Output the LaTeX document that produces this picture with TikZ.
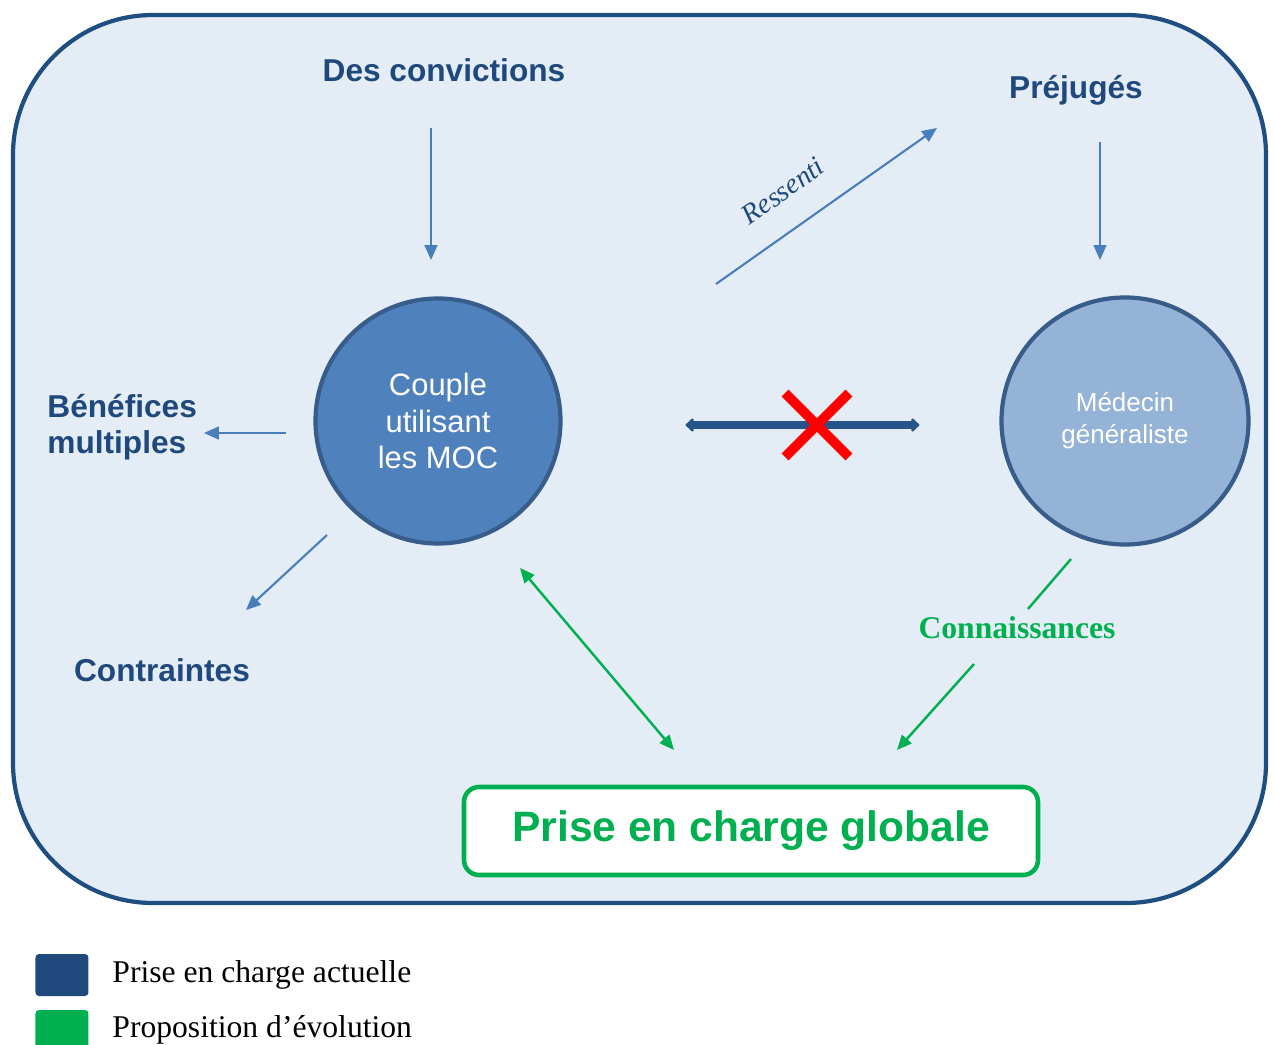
\documentclass[tikz,border=0pt]{standalone}
\usepackage{fontspec}
\setmainfont{Liberation Serif}
\setsansfont{Liberation Sans}
\usepackage{tikz}
\usetikzlibrary{arrows.meta,shapes.misc}
\definecolor{fond}{RGB}{228,236,245}
\definecolor{cadre}{RGB}{31,78,128}
\definecolor{bleutexte}{RGB}{31,73,125}
\definecolor{bleufleche}{RGB}{74,126,187}
\definecolor{bleurond}{RGB}{79,129,189}
\definecolor{bleuclair}{RGB}{149,179,215}
\definecolor{bordrond}{RGB}{56,93,138}
\definecolor{bleuepais}{RGB}{38,84,136}
\definecolor{vert}{RGB}{0,176,80}
\tikzstyle{rond} = [circle, draw=bordrond, line width=1.2pt, text=white, align=center, inner sep=0pt]
\tikzstyle{titre} = [text=bleutexte, font=\sffamily\bfseries\fontsize{9}{10.3}\selectfont]
\tikzstyle{line} = [draw=bleufleche, line width=0.6pt, -{Triangle[length=4.2pt,width=3.6pt]}]
\tikzstyle{vline} = [draw=vert, line width=0.7pt, -{Triangle[length=4.2pt,width=3.6pt]}]
\tikzstyle{vdouble} = [draw=vert, line width=0.7pt, {Triangle[length=4.2pt,width=3.6pt]}-{Triangle[length=4.2pt,width=3.6pt]}]
\tikzstyle{epais} = [draw=bleuepais, line width=2.3pt, {Triangle[round,length=2.4pt,width=4.4pt]}-{Triangle[round,length=2.4pt,width=4.4pt]}]
\tikzstyle{croix} = [cross out, draw=red, line width=2.8pt, minimum size=0.54cm, inner sep=0pt, shorten <=0pt, shorten >=0pt]
\tikzstyle{legende} = [anchor=base west, font=\fontsize{9}{10.8}\selectfont]
\tikzstyle{carre} = [rectangle, rounded corners=1pt, minimum width=0.53cm, minimum height=0.42cm, inner sep=0pt]

\begin{document}
\begin{tikzpicture}[node distance=6.87cm]
			\useasboundingbox (0,0) rectangle (12.75,10.44);
			\draw [cadre, fill=fond, line width=1.2pt, rounded corners=1.4cm] (0.13,1.41) rectangle (12.66,10.29);
			% les deux acteurs
			\node [rond, fill=bleurond, minimum size=2.45cm, font=\sffamily\fontsize{8.8}{10.4}\selectfont] (couple) at (4.38,6.23) {Couple\\utilisant\\les MOC};
			\node [rond, fill=bleuclair, minimum size=2.47cm, font=\sffamily\fontsize{7.4}{9.1}\selectfont, right of=couple] (medecin) {M\'edecin\\g\'en\'eraliste};
			\node [titre, anchor=base] (convictions) at (4.44,9.62) {Des convictions};
			\node [titre, anchor=base] (prejuges) at (10.76,9.45) {Pr\'ejug\'es};
			\node [titre, anchor=west, align=left] (benefices) at (0.35,6.17) {B\'en\'efices\\multiples};
			\node [titre, anchor=base] (contraintes) at (1.62,3.63) {Contraintes};
			\node [anchor=base, text=vert, font=\bfseries\fontsize{9}{10.8}\selectfont] (connaissances) at (10.17,4.05) {Connaissances};
			\node [draw=vert, line width=1.3pt, fill=white, rounded corners=0.15cm, minimum width=5.74cm, minimum height=0.88cm, text=vert, font=\sffamily\bfseries\fontsize{12.1}{14}\selectfont] (globale) at (7.51,2.13) {Prise en charge globale};
			% extremites des fleches
			\coordinate (c1) at (4.31,9.16);
			\coordinate (c2) at (4.31,7.84);
			\coordinate (p1) at (11.00,9.02);
			\coordinate (p2) at (11.00,7.84);
			\coordinate (r1) at (7.16,7.60);
			\coordinate (r2) at (9.37,9.16);
			\coordinate (b1) at (2.86,6.11);
			\coordinate (b2) at (2.04,6.11);
			\coordinate (t1) at (3.27,5.09);
			\coordinate (t2) at (2.46,4.34);
			\coordinate (g1) at (5.20,4.76);
			\coordinate (g2) at (6.74,2.94);
			\coordinate (k1) at (10.71,4.85);
			\coordinate (k2) at (10.28,4.35);
			\coordinate (k3) at (9.74,3.80);
			\coordinate (k4) at (8.97,2.94);
			\path [line] (c1) -- (c2);
			\path [line] (p1) -- (p2);
			\path [line] (r1) -- node [pos=0.40, sloped, above=0.27cm, inner sep=0pt, text=bleutexte, font=\itshape\fontsize{8}{9.6}\selectfont] (ressenti) {Ressenti} (r2);
			\path [line] (b1) -- (b2);
			\path [line] (t1) -- (t2);
			\path [epais, shorten <=1.23cm, shorten >=0.80cm] ([yshift=-0.04cm]couple.east) -- ([yshift=-0.04cm]medecin.west);
			\node [croix] (barre) at (8.17,6.19) {};
			\path [vdouble] (g1) -- (g2);
			\draw [vert, line width=0.7pt] (k1) -- (k2);
			\path [vline] (k3) -- (k4);
			% legende
			\node [carre, fill=bleutexte] (carrebleu) at (0.62,0.69) {};
			\node [carre, fill=vert] (carrevert) at (0.62,0.13) {};
			\node [legende] (actuelle) at (1.00,0.62) {Prise en charge actuelle};
			\node [legende] (evolution) at (1.00,0.07) {Proposition d'\'evolution};
		\end{tikzpicture}
\end{document}
